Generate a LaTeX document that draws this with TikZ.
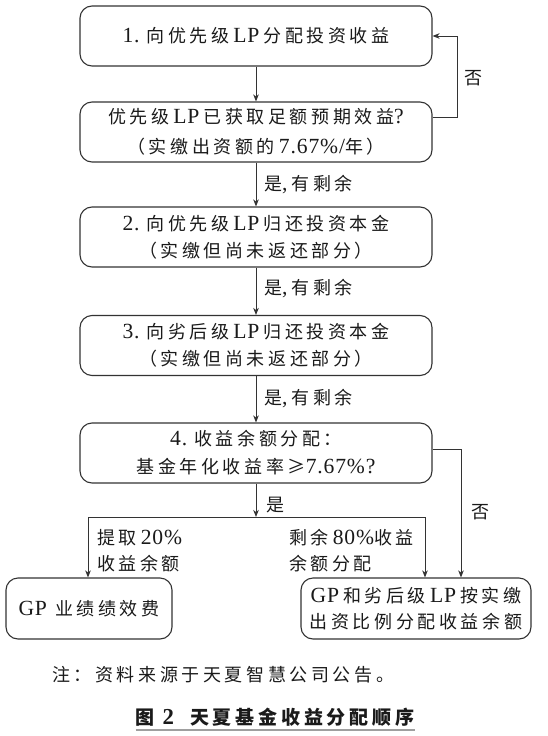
\documentclass[tikz,border=0pt]{standalone}
\usepackage{fontspec}
\setmainfont[LetterSpace=20]{Noto Sans CJK SC}
\newfontfamily\lat[Scale=1.2,LetterSpace=4]{Liberation Serif}
\newcommand\la[1]{{\lat #1}}
\newcommand\lsp{\hspace{4pt}}
\newcommand\nsp{\hspace{7pt}}
\usetikzlibrary{arrows.meta}
\definecolor{linec}{HTML}{333333}
\definecolor{txtc}{HTML}{1A1A1A}
\begin{document}
\begin{tikzpicture}[x=1pt,y=-1pt,
  every node/.style={text=txtc},
  box/.style={draw=linec, line width=1.1pt, rounded corners=12pt, minimum width=352pt, minimum height=60pt, align=center, inner sep=0pt, font=\fontsize{18}{27}\selectfont},
  arr/.style={draw=linec, line width=1pt, -{Stealth[length=7pt,width=5.5pt,inset=2pt]}},
  plain/.style={draw=linec, line width=1pt},
  lab/.style={font=\fontsize{18}{26}\selectfont, inner sep=0pt}
]
\useasboundingbox (0,0) rectangle (547,736);
\fill[white] (0,0) rectangle (547,736);

\node[box] (b1) at (256,36) {\la{1.}\nsp 向优先级\lsp\la{LP}\lsp 分配投资收益};
\node[box, font=\fontsize{18}{30}\selectfont] (b2) at (256,132) {优先级\lsp\la{LP}\lsp 已获取足额预期效益\la{?}\\（实缴出资额的\lsp\la{7.67\%/}年）};
\node[box] (b3) at (256,237) {\la{2.}\nsp 向优先级\lsp\la{LP}\lsp 归还投资本金\\（实缴但尚未返还部分）};
\node[box] (b4) at (256,345.5) {\la{3.}\nsp 向劣后级\lsp\la{LP}\lsp 归还投资本金\\（实缴但尚未返还部分）};
\node[box, font=\fontsize{18}{28}\selectfont] (b5) at (256,453) {\la{4.}\nsp 收益余额分配：\\基金年化收益率≥\la{7.67\%?}};
\node[box, minimum width=166pt, minimum height=61pt] (b6) at (89,608.5) {\la{GP}\lsp\lsp 业绩绩效费};
\node[box, minimum width=230pt, minimum height=61pt, font=\fontsize{18}{26}\selectfont] (b7) at (416,608.5) {\la{GP}\lsp 和劣后级\lsp\la{LP}\lsp 按实缴\\出资比例分配收益余额};

\draw[arr] (b1) -- (b2);
\draw[arr] ([yshift=15pt]b2.east) -- ++(25,0) |- (b1.east);
\node[lab] (no1) at (473,78) {否};

\draw[arr] (b2) -- (b3);
\node[lab, anchor=west] (y1) at (264,185) {是\la{,}\lsp 有剩余};
\draw[arr] (b3) -- (b4);
\node[lab, anchor=west] (y2) at (264,289) {是\la{,}\lsp 有剩余};
\draw[arr] (b4) -- (b5);
\node[lab, anchor=west] (y3) at (264,399) {是\la{,}\lsp 有剩余};

\coordinate (j) at (256,517);
\coordinate (jl) at (88,517);
\coordinate (jr) at (425,517);
\draw[arr] (b5) -- (j);
\node[lab, anchor=west] (y4) at (266,505) {是};
\draw[plain] (jl) -- (jr);
\draw[arr] (jl) -- (jl |- b6.north);
\draw[arr] (jr) -- (jr |- b7.north);
\draw[arr] ([yshift=4pt]b5.east) -| ([xshift=45pt]b7.north);
\node[lab] (no2) at (480,512) {否};

\node[lab, anchor=west, align=left] (l1) at (97,551) {提取\lsp\la{20\%}\\收益余额};
\node[lab, anchor=west, align=left] (l2) at (289,551) {剩余\lsp\la{80\%}收益\\余额分配};

\node[lab, anchor=west] (note) at (52,675) {注：资料来源于天夏智慧公司公告。};
\node[inner sep=0pt, font=\fontsize{19}{22}\selectfont\bfseries] (cap) at (275,717) {图\hspace{8pt}\la{\bfseries 2}\hspace{16pt}天夏基金收益分配顺序};
\coordinate (ul) at (0,730);
\draw[gray!75, line width=2pt] (cap.west |- ul) -- (cap.east |- ul);
\end{tikzpicture}
\end{document}
